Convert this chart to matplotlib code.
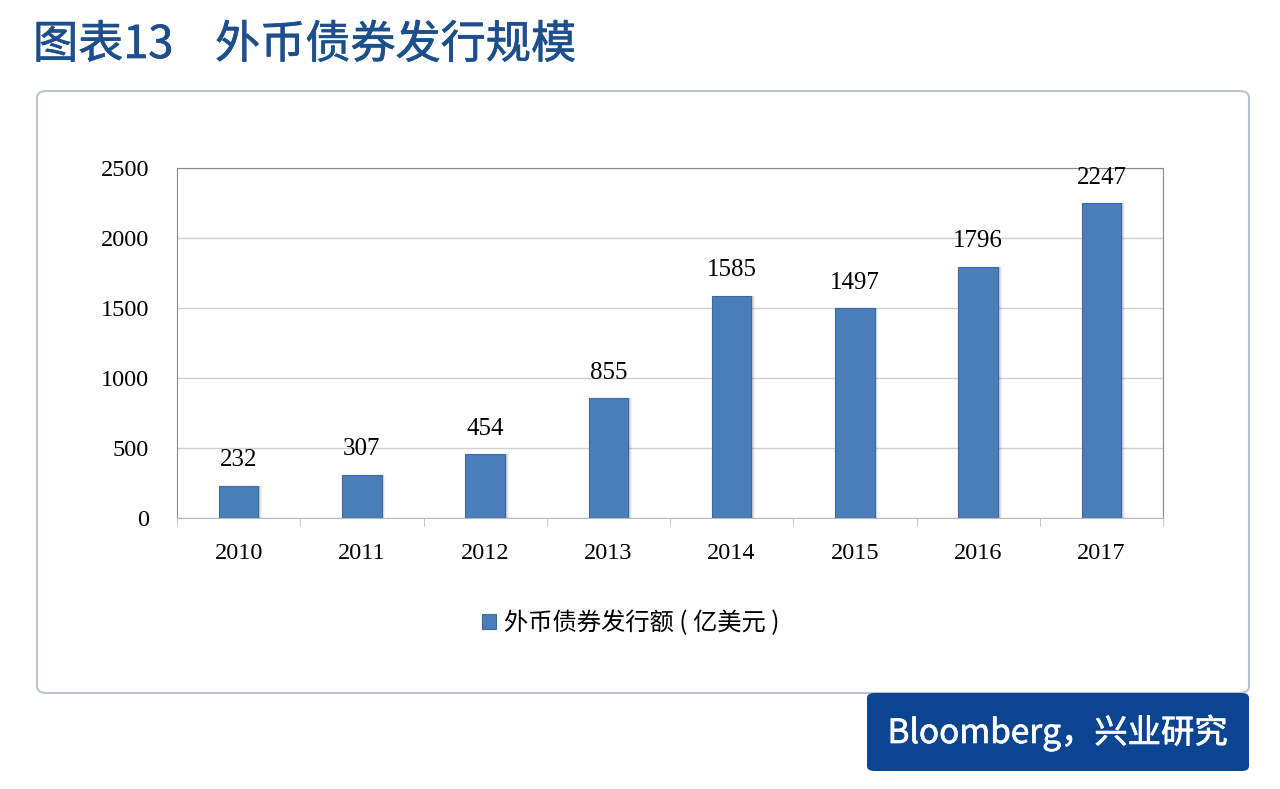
import matplotlib.pyplot as plt
from matplotlib.patches import FancyBboxPatch
import matplotlib.patheffects as pe
import numpy as np

plt.rcParams['font.family'] = ['Liberation Serif', 'Noto Sans CJK SC', 'DejaVu Sans']

years = ['2010', '2011', '2012', '2013', '2014', '2015', '2016', '2017']
issuance = [232, 307, 454, 855, 1585, 1497, 1796, 2247]
series_name = '外币债券发行额 ( 亿美元 )'

bar_color = '#4a7ebb'
title_color = '#1d4f8c'
cjk = ['Noto Sans CJK SC', 'DejaVu Sans']

fig = plt.figure(figsize=(12.8, 7.89), dpi=100)

# outer panel, kept behind the axes
panel = FancyBboxPatch((37 / 1280, 1 - 693 / 789), (1249 - 37) / 1280, (693 - 91) / 789,
                       boxstyle='round,pad=0,rounding_size=0.008',
                       transform=fig.transFigure, facecolor='white',
                       edgecolor='#b8c4d6', linewidth=1.5, zorder=-5)
fig.patches.append(panel)

# source box
src = FancyBboxPatch((867 / 1280, 1 - 771 / 789), (1249 - 867) / 1280, (771 - 693) / 789,
                     boxstyle='round,pad=0,rounding_size=0.006',
                     transform=fig.transFigure, facecolor='#0b4592',
                     edgecolor='none', zorder=-5)
fig.patches.append(src)
fig.text(1058 / 1280, 1 - 733 / 789, 'Bloomberg，兴业研究', color='white',
         fontsize=24, ha='center', va='center', family=cjk,
         path_effects=[pe.withStroke(linewidth=0.5, foreground='white')])

thick = [pe.withStroke(linewidth=0.5, foreground=title_color)]
fig.text(33 / 1280, 1 - 45 / 789, '图表13', color=title_color,
         fontsize=32.5, ha='left', va='center', family=cjk, path_effects=thick)
fig.text(215 / 1280, 1 - 45 / 789, '外币债券发行规模', color=title_color,
         fontsize=32.5, ha='left', va='center', family=cjk, path_effects=thick)

ax = fig.add_axes([177 / 1280, 1 - 518 / 789, (1163 - 177) / 1280, (518 - 168) / 789])
ax.patch.set_alpha(0)
x = np.arange(len(years))

# soft shadow behind bars
for k, a in zip([7, 5, 3], [0.05, 0.07, 0.09]):
    ax.bar(x + k * 0.0025, issuance, width=0.32 + k * 0.004, color='black',
           alpha=a, zorder=2, linewidth=0)
ax.bar(x, issuance, width=0.32, color=bar_color, edgecolor='#3a6aa4',
       linewidth=0.8, zorder=3, label=series_name)

for xi, v in zip(x, issuance):
    ax.text(xi, v + 105, str(v), ha='center', va='bottom', fontsize=18)

ax.set_xlim(-0.5, len(years) - 0.5)
ax.set_ylim(0, 2500)
ax.set_yticks(range(0, 2501, 500))
ax.set_xticks(x)
ax.set_xticklabels(years)
ax.set_xticks(np.arange(-0.5, len(years), 1), minor=True)
ax.tick_params(axis='x', which='major', length=0, pad=18, labelsize=17.5)
ax.tick_params(axis='x', which='minor', length=6, color='#bbbbbb')
ax.tick_params(axis='y', length=0, pad=20, labelsize=17.5)
ax.grid(axis='y', color='#d0d0d0', linewidth=1, zorder=0)
ax.set_axisbelow(True)
for side in ['left', 'top', 'right']:
    ax.spines[side].set_color('#888888')
ax.spines['bottom'].set_color('#bbbbbb')

ax.legend(loc='center', bbox_to_anchor=(0.46, -0.3), frameon=False,
          handlelength=0.6, handleheight=0.6, handletextpad=0.3,
          prop={'family': cjk, 'size': 17.5})

fig.savefig('out.png', dpi=100)
